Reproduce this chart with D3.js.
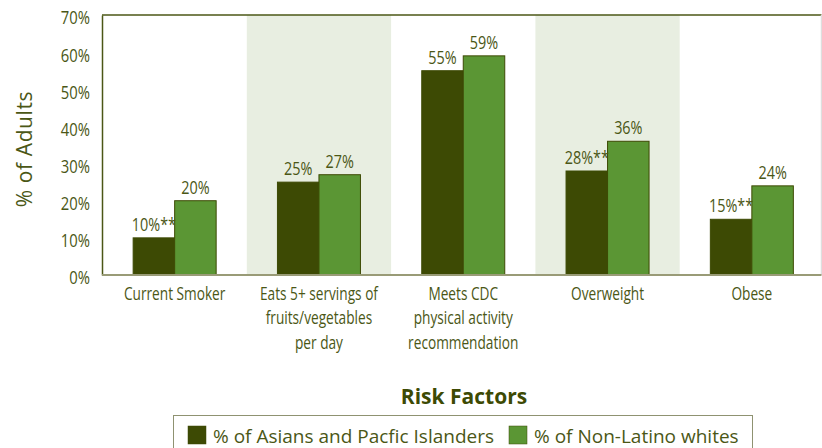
<!DOCTYPE html>
<html><head><meta charset="utf-8">
<script src="https://cdn.jsdelivr.net/npm/d3@7"></script>
<style>
body{margin:0;background:#fff;}
svg{display:block;}
</style></head>
<body><svg id="c" width="822" height="448"></svg>
<script>
const categories = [
  ["Current Smoker"],
  ["Eats 5+ servings of","fruits/vegetables","per day"],
  ["Meets CDC","physical activity","recommendation"],
  ["Overweight"],
  ["Obese"]
];
const seriesNames = ["% of Asians and Pacfic Islanders","% of Non-Latino whites"];
const asianValues = [10, 25, 55, 28, 15];
const whiteValues = [20, 27, 59, 36, 24];
const asianLabels = ["10%**","25%","55%","28%**","15%**"];
const whiteLabels = ["20%","27%","59%","36%","24%"];
const yTicks = [0,10,20,30,40,50,60,70];
const shaded = [1,3];

const colors = ["#3d4a04","#5b9634"];
const textCol = "#4b5716";
const font = "'Open Sans','Noto Sans',sans-serif";
const SX = 0.8;   // condensing for data labels / ticks
const SXC = 0.76; // condensing for category labels

const svg = d3.select("#c");
const L = 102, R = 821.5, T = 15, B = 275;

const y = d3.scaleLinear().domain([0,70]).range([B,T]);
const x = d3.scaleBand().domain(d3.range(categories.length)).range([102.5, 824]).paddingInner(0).paddingOuter(0);
const barW = 41.5;
const x1 = d3.scaleBand().domain([0,1]).range([-barW, barW]);

// shading
svg.append("g").selectAll("rect").data(shaded).join("rect")
  .attr("x", d => x(d)).attr("y", T)
  .attr("width", d => Math.min(x.bandwidth(), R - x(d))).attr("height", B - T)
  .attr("fill", "#e8eee1");

// borders
svg.append("line").attr("x1", L).attr("x2", R).attr("y1", T).attr("y2", T).attr("stroke", "#4b5716").attr("stroke-width", 1.5);
svg.append("line").attr("x1", R).attr("x2", R).attr("y1", T).attr("y2", B).attr("stroke", "#dedede").attr("stroke-width", 1.5);

// bars
const data = categories.map((c,i) => ({i, vals:[asianValues[i], whiteValues[i]], labs:[asianLabels[i], whiteLabels[i]]}));
const g = svg.append("g").selectAll("g").data(data).join("g")
  .attr("transform", d => `translate(${x(d.i) + x.bandwidth()/2},0)`);
g.selectAll("rect").data(d => d.vals.map((v,k) => ({v,k}))).join("rect")
  .attr("x", d => x1(d.k)).attr("width", x1.bandwidth())
  .attr("y", d => y(d.v)).attr("height", d => B - y(d.v))
  .attr("fill", d => colors[d.k]).attr("stroke", "#3d4a04").attr("stroke-width", 1);
g.selectAll("text").data(d => d.vals.map((v,k) => ({v,k,lab:d.labs[k]}))).join("text")
  .attr("transform", d => `translate(${x1(d.k) + x1.bandwidth()/2},${y(d.v) - 7}) scale(${SX},1)`)
  .attr("text-anchor", "middle").attr("font-family", font).attr("font-size", 18)
  .attr("fill", textCol).text(d => d.lab);

// y axis
const yAxis = svg.append("g").attr("transform", `translate(${L},0)`)
  .call(d3.axisLeft(y).tickValues(yTicks).tickSize(0).tickPadding(12).tickFormat(d => d + "%"));
yAxis.select(".domain").attr("stroke", "#4b5716").attr("stroke-width", 1.5);
yAxis.selectAll("text").attr("font-family", font).attr("font-size", 18.5).attr("fill", textCol)
  .attr("x", -12 / SX).attr("dy", "0.48em").attr("transform", `scale(${SX},1)`);

// baseline
svg.append("line").attr("x1", L).attr("x2", R).attr("y1", B).attr("y2", B).attr("stroke", "#999b77").attr("stroke-width", 2);

// category labels
const xl = svg.append("g").selectAll("text").data(categories).join("text")
  .attr("transform", (d,i) => `translate(${x(i) + x.bandwidth()/2},300) scale(${SXC},1)`)
  .attr("text-anchor", "middle").attr("font-family", font).attr("font-size", 18).attr("fill", textCol);
xl.selectAll("tspan").data(d => d).join("tspan")
  .attr("x", 0).attr("dy", (d,j) => j ? 24.5 : 0).text(d => d);

// y title
svg.append("text").attr("transform", "translate(32,149) rotate(-90)")
  .attr("text-anchor", "middle").attr("font-family", font).attr("font-size", 21).attr("letter-spacing", 0.6)
  .attr("fill", textCol).text("% of Adults");

// x title
svg.append("text").attr("x", 464).attr("y", 404).attr("text-anchor", "middle")
  .attr("font-family", font).attr("font-weight", "bold").attr("font-size", 21)
  .attr("fill", "#3d4a04").text("Risk Factors");

// legend
svg.append("rect").attr("x", 173.5).attr("y", 415.5).attr("width", 579).attr("height", 40)
  .attr("fill", "none").attr("stroke", "#8f9271").attr("stroke-width", 1);
const legX = [188, 509];
const lg = svg.append("g").selectAll("g").data(seriesNames).join("g")
  .attr("transform", (d,i) => `translate(${legX[i]},426)`);
lg.append("rect").attr("width", 18).attr("height", 18).attr("fill", (d,i) => colors[i])
  .attr("stroke", "#3d4a04").attr("stroke-width", 0.5);
lg.append("text").attr("x", 25).attr("y", 17).attr("font-family", font).attr("font-size", 19)
  .attr("fill", textCol).text(d => d);
</script></body></html>
